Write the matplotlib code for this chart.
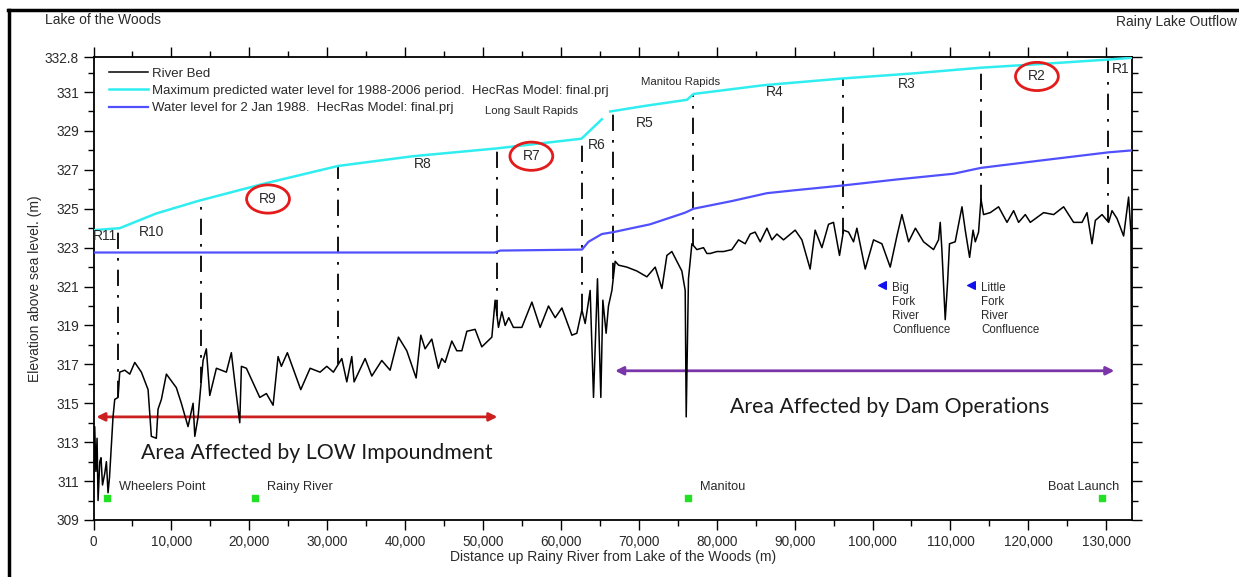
import numpy as np
import matplotlib
matplotlib.use("Agg")
import matplotlib.pyplot as plt
from matplotlib.patches import Ellipse
from matplotlib.lines import Line2D
from matplotlib.ticker import FuncFormatter, MultipleLocator

plt.rcParams['font.family'] = ['Liberation Sans', 'DejaVu Sans']

# River bed profile, distance up river (m) vs elevation (m)
bed_dist = [0, 150, 300, 450, 580, 800, 960, 1150, 1440, 1650, 1860, 2050, 2250, 2500, 2720,
            3150, 3360, 4010, 4650, 5290, 6140, 7000, 7420, 8060, 8280, 8710, 9350, 10630,
            11270, 12130, 12780, 13000, 13420, 14060, 14480, 14920, 15770, 17050, 17690,
            18130, 18770, 18980, 19620, 21340, 22190, 23050, 23690, 24110, 24880, 26600,
            27800, 29080, 29940, 30790, 31870, 32510, 33150, 33450, 34860, 35720, 37000,
            38070, 39140, 40210, 41410, 42010, 42560, 43420, 44270, 44700, 45130, 45990,
            46630, 47280, 47920, 48980, 49840, 51130, 51550, 51980, 52410, 52840, 53300,
            53900, 54980, 56270, 57330, 58400, 59260, 60120, 61400, 62040, 62690, 63110,
            63750, 64180, 64690, 65120, 65380, 65800, 66100, 66540, 66960, 67400, 68460,
            69740, 71030, 72100, 72960, 73600, 74240, 75520, 75950, 76080, 76370, 76810,
            77450, 78300, 78730, 79160, 80020, 80870, 81940, 82800, 83650, 84300, 84930,
            85580, 86440, 87080, 87720, 88570, 90070, 90930, 91990, 92630, 93500, 94350,
            94990, 95760, 96280, 96920, 97560, 97990, 99060, 100130, 101200, 102270,
            103130, 103770, 104630, 105500, 106550, 107830, 108470, 108690, 108900,
            109330, 109630, 109880, 110610, 111480, 111900, 112460, 112900, 113190,
            113610, 113920, 114250, 115110, 116180, 117260, 118110, 118750, 119610,
            120250, 121960, 123250, 124530, 125810, 126890, 127530, 128170, 128600,
            129460, 130310, 130740, 131380, 132230, 132870, 133170, 133300]
bed_elev = [311.0, 313.8, 311.5, 313.2, 310.0, 312.0, 312.2, 310.8, 311.4, 312.0, 310.4,
            311.2, 312.6, 314.3, 315.2, 315.3, 316.6, 316.7, 316.5, 317.1, 316.6, 315.7,
            313.3, 313.2, 314.7, 315.2, 316.5, 315.8, 315.0, 313.8, 315.0, 313.3, 314.3,
            317.2, 317.8, 315.4, 316.8, 316.6, 317.6, 316.1, 314.0, 316.9, 316.8, 315.3,
            315.5, 314.9, 317.4, 316.9, 317.6, 315.7, 316.8, 316.6, 316.9, 316.6, 317.3,
            316.1, 317.4, 316.1, 317.3, 316.4, 317.2, 316.7, 318.4, 317.7, 316.3, 318.5,
            317.8, 318.3, 316.8, 317.3, 317.1, 318.2, 317.7, 317.7, 318.7, 318.8, 317.9,
            318.4, 320.3, 318.9, 319.7, 319.0, 319.4, 318.9, 318.9, 320.2, 318.9, 320.0,
            319.4, 319.9, 318.5, 318.6, 319.8, 319.1, 320.8, 315.3, 321.4, 315.3, 320.3,
            318.6, 320.0, 320.8, 322.3, 322.1, 322.0, 321.8, 321.5, 322.0, 320.9, 322.6,
            322.8, 321.8, 320.8, 314.3, 321.4, 323.2, 322.9, 323.0, 322.7, 322.7, 322.8,
            322.8, 322.9, 323.4, 323.2, 323.7, 323.8, 323.3, 324.0, 323.4, 323.7, 323.4,
            323.9, 323.4, 321.9, 323.9, 323.0, 324.2, 324.3, 322.6, 323.9, 323.8, 323.3,
            324.0, 321.9, 323.4, 323.2, 322.0, 323.6, 324.7, 323.3, 324.0, 323.3, 322.9,
            323.4, 324.3, 322.9, 319.3, 321.2, 323.2, 323.3, 325.1, 323.9, 322.5, 323.9,
            323.3, 323.8, 325.5, 324.7, 324.8, 325.1, 324.3, 324.9, 324.3, 324.7, 324.3,
            324.8, 324.7, 325.1, 324.3, 324.3, 324.8, 323.2, 324.4, 324.7, 324.3, 324.9,
            324.5, 323.6, 325.6, 323.8, 310.4]

# Maximum predicted water level 1988-2006 (gap at Long Sault Rapids)
max_dist = [0, 3360, 8000, 13420, 22000, 31400, 41000, 51720, 62630, 62900, 65250, 65800,
            66320, 71000, 76170, 77020, 86000, 96280, 105000, 113900, 122000, 130300, 133300]
max_elev = [323.9, 324.0, 324.75, 325.4, 326.3, 327.2, 327.7, 328.1, 328.6, 328.7, 329.6,
            np.nan, 330.0, 330.3, 330.6, 330.9, 331.35, 331.7, 331.95, 332.25, 332.45,
            332.67, 332.76]

# Water level for 2 Jan 1988
jan_dist = [0, 51500, 52200, 62700, 63530, 65250, 66750, 71450, 75950, 77020, 82000,
            86440, 90000, 96280, 103000, 110400, 113900, 122000, 130300, 133300]
jan_elev = [322.75, 322.75, 322.85, 322.9, 323.3, 323.7, 323.8, 324.2, 324.8, 325.0, 325.4,
            325.8, 325.95, 326.2, 326.5, 326.8, 327.1, 327.5, 327.9, 328.0]

# Reach boundaries and reach labels
reach_breaks = [3150, 13800, 31400, 51800, 62700, 66700, 76960, 96200, 113900, 130200]
reach_names = ['R11', 'R10', 'R9', 'R8', 'R7', 'R6', 'R5', 'R4', 'R3', 'R2', 'R1']
reach_label_x = [1440, 7420, 22400, 42300, 56200, 64600, 70800, 87500, 104400, 121100, 131800]
reach_label_y = [323.6, 323.8, 325.5, 327.3, 327.7, 328.3, 329.4, 331.0, 331.4, 331.8, 332.2]
circled = ['R9', 'R7', 'R2']

# Landmarks along the river
place_names = ['Wheelers Point', 'Rainy River', 'Manitou', 'Boat Launch']
place_x = [1730, 20740, 76300, 129500]
place_y = [310.13, 310.13, 310.13, 310.13]

confluence_names = ['Big\nFork\nRiver\nConfluence', 'Little\nFork\nRiver\nConfluence']
confluence_x = [101240, 112670]
confluence_y = [321.1, 321.1]

x_max = 133300
y_min, y_max = 309, 332.8

fig = plt.figure(figsize=(12.39, 5.77), dpi=100)
ax = fig.add_axes([0.0755, 0.0988, 0.8381, 0.8024])

txt = '#2a2a2a'

ax.plot(bed_dist, bed_elev, color='black', lw=1.1, label='River Bed', zorder=4)
ax.plot(max_dist, max_elev, color='#30eef0', lw=1.8,
        label='Maximum predicted water level for 1988-2006 period.  HecRas Model: final.prj', zorder=3)
ax.plot(jan_dist, jan_elev, color='#5050ff', lw=1.6,
        label='Water level for 2 Jan 1988.  HecRas Model: final.prj', zorder=3)

# dash-dot reach boundaries from bed up to the max water level
max_d = np.array(max_dist, dtype=float)
max_e = np.array(max_elev, dtype=float)
ok = ~np.isnan(max_e)
for xb in reach_breaks:
    top = np.interp(xb, max_d[ok], max_e[ok])
    bottom = np.interp(xb, bed_dist, bed_elev)
    ax.plot([xb, xb], [bottom, top], color='black', lw=1.3,
            linestyle=(0, (9, 5, 1.5, 5)), zorder=2)

for name, lx, ly in zip(reach_names, reach_label_x, reach_label_y):
    ax.text(lx, ly, name, ha='center', va='center', fontsize=10, color=txt, zorder=5)
    if name in circled:
        ax.add_patch(Ellipse((lx, ly), 5500, 1.45, fill=False, ec='#e31b1b', lw=2, zorder=5))

ax.text(56270, 330.0, 'Long Sault Rapids', ha='center', va='center', fontsize=8.2, color=txt)
ax.text(75300, 331.5, 'Manitou Rapids', ha='center', va='center', fontsize=8.2, color=txt)

# landmarks
ax.scatter(place_x, place_y, marker='s', s=22, color='#22e022', zorder=5)
for name, px, py in zip(place_names, place_x, place_y):
    if name == 'Boat Launch':
        ax.text(px + 2200, py + 0.55, name, ha='right', va='center', fontsize=9.2, color=txt)
    else:
        ax.text(px + 1500, py + 0.55, name, ha='left', va='center', fontsize=9.2, color=txt)

ax.scatter(confluence_x, confluence_y, marker='<', s=30, color='#1010ee', zorder=5)
for name, cx, cy in zip(confluence_names, confluence_x, confluence_y):
    ax.text(cx + 1300, cy + 0.12, name, ha='left', va='top', fontsize=8.3,
            color=txt, linespacing=1.2)

# affected areas
ax.annotate('', xy=(0, 314.3), xytext=(52200, 314.3),
            arrowprops=dict(arrowstyle='<|-|>', color='#cc1f1f', lw=2, mutation_scale=12))
ax.annotate('', xy=(66600, 316.67), xytext=(131400, 316.67),
            arrowprops=dict(arrowstyle='<|-|>', color='#7a35a8', lw=2, mutation_scale=12))
ax.text(28600, 312.45, 'Area Affected by LOW Impoundment', ha='center', va='center',
        fontsize=15.3, family=['Lato', 'DejaVu Sans'], color='#1a1a1a')
ax.text(102200, 314.8, 'Area Affected by Dam Operations', ha='center', va='center',
        fontsize=15.3, family=['Lato', 'DejaVu Sans'], color='#1a1a1a')

ax.set_xlim(0, x_max)
ax.set_ylim(y_min, y_max)
ax.set_xticks(np.arange(0, 130001, 10000))
ax.xaxis.set_minor_locator(MultipleLocator(5000))
ax.xaxis.set_major_formatter(FuncFormatter(lambda v, p: f'{int(v):,}'))
ax.set_yticks(list(range(309, 332, 2)) + [332.8])
ax.set_yticklabels([str(v) for v in range(309, 332, 2)] + ['332.8'])
ax.yaxis.set_minor_locator(MultipleLocator(1))
ax.tick_params(which='both', direction='out', top=True, right=True,
               labelsize=9.8, labelcolor=txt, width=1)
ax.tick_params(which='major', length=7)
ax.tick_params(which='minor', length=4)
for s in ax.spines.values():
    s.set_linewidth(1.3)

ax.set_xlabel('Distance up Rainy River from Lake of the Woods (m)', fontsize=10,
              color=txt, labelpad=1)
ax.set_ylabel('Elevation above sea level. (m)', fontsize=10, color=txt, labelpad=2)

ax.legend(loc='upper left', bbox_to_anchor=(0.003, 1.003), frameon=False, fontsize=9.5,
          handlelength=3.0, handletextpad=0.3, labelspacing=0.38, labelcolor=txt)

fig.text(0.036, 0.966, 'Lake of the Woods', fontsize=10, color=txt, va='center')
fig.text(0.998, 0.962, 'Rainy Lake Outflow', fontsize=10, color=txt, va='center', ha='right')

# outer frame
fig.add_artist(Line2D([0.0065, 1.0], [0.983, 0.983], color='black', lw=2.5))
fig.add_artist(Line2D([0.0072, 0.0072], [0.0, 0.983], color='black', lw=2.5))

fig.savefig('out.png', dpi=100)
